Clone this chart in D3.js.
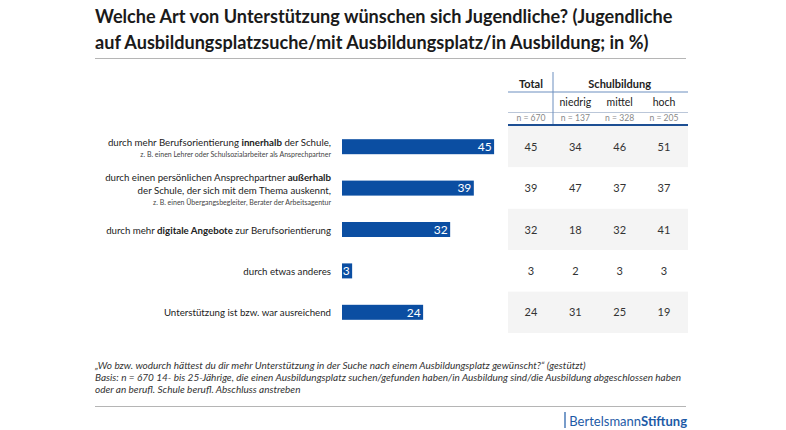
<!DOCTYPE html>
<html>
<head>
<meta charset="utf-8">
<script src="https://cdn.jsdelivr.net/npm/d3@7"></script>
<style>
  html, body { margin: 0; padding: 0; background: #fff; }
  svg { display: block; font-family: Lato, "Open Sans", sans-serif; }
</style>
</head>
<body>
<svg id="chart" width="786" height="430"></svg>
<script>
// ---------- data ----------
const titleLines = [
  "Welche Art von Unterstützung wünschen sich Jugendliche? (Jugendliche",
  "auf Ausbildungsplatzsuche/mit Ausbildungsplatz/in Ausbildung; in %)"
];
const categories = ["innerhalb", "ausserhalb", "digital", "anderes", "ausreichend"];
// main label lines, **bold** segments marked
const labelLines = [
  ["durch mehr Berufsorientierung **innerhalb** der Schule,"],
  ["durch einen persönlichen Ansprechpartner **außerhalb**", "der Schule, der sich mit dem Thema auskennt,"],
  ["durch mehr **digitale Angebote** zur Berufsorientierung"],
  ["durch etwas anderes"],
  ["Unterstützung ist bzw. war ausreichend"]
];
const subLabels = [
  "z. B. einen Lehrer oder Schulsozialarbeiter als Ansprechpartner",
  "z. B. einen Übergangsbegleiter, Berater der Arbeitsagentur",
  "", "", ""
];
const totalValues   = [45, 39, 32, 3, 24];
const niedrigValues = [34, 47, 18, 2, 31];
const mittelValues  = [46, 37, 32, 3, 25];
const hochValues    = [51, 37, 41, 3, 19];
const columnNames = ["Total", "niedrig", "mittel", "hoch"];
const groupName = "Schulbildung";
const nLabels = ["n = 670", "n = 137", "n = 328", "n = 205"];
const footnoteLines = [
  "„Wo bzw. wodurch hättest du dir mehr Unterstützung in der Suche nach einem Ausbildungsplatz gewünscht?“ (gestützt)",
  "Basis: n = 670 14- bis 25-Jährige, die einen Ausbildungsplatz suchen/gefunden haben/in Ausbildung sind/die Ausbildung abgeschlossen haben",
  "oder an berufl. Schule berufl. Abschluss anstreben"
];

// ---------- layout ----------
const svg = d3.select("#chart");
const blue = "#0b4ea2";
const textDark = "#222";

const x = d3.scaleLinear().domain([0, 100]).range([342, 680]);
const y = d3.scaleBand().domain(categories).range([126, 333]);
const colX = d3.scalePoint().domain(columnNames).range([531, 664]);
const tableLeft = 508, tableRight = 688;

// title
svg.append("g").selectAll("text").data(titleLines).join("text")
  .attr("x", 95).attr("y", (d, i) => 23 + i * 26)
  .attr("font-size", 18.1).attr("font-weight", 700).attr("fill", "#1a1a1a")
  .text(d => d);
svg.append("line").attr("x1", 95).attr("x2", 686).attr("y1", 58.5).attr("y2", 58.5)
  .attr("stroke", "#b5b5b5").attr("stroke-width", 1.2);

// table row backgrounds
svg.append("g").selectAll("rect").data(categories).join("rect")
  .attr("x", tableLeft).attr("width", tableRight - tableLeft)
  .attr("y", d => y(d)).attr("height", y.bandwidth())
  .attr("fill", (d, i) => i % 2 === 0 ? "#f4f4f4" : "#ffffff");

// table header
const hdr = svg.append("g");
hdr.append("text").attr("x", colX("Total")).attr("y", 87.5).attr("text-anchor", "middle")
  .attr("font-size", 11).attr("font-weight", 700).attr("fill", textDark).text(columnNames[0]);
hdr.append("text").attr("x", colX("mittel")).attr("y", 87.5).attr("text-anchor", "middle")
  .attr("font-size", 11).attr("font-weight", 700).attr("fill", textDark).text(groupName);
hdr.selectAll("text.sub").data(columnNames.slice(1)).join("text").attr("class", "sub")
  .attr("x", d => colX(d)).attr("y", 105.5).attr("text-anchor", "middle")
  .attr("font-size", 10.5).attr("fill", textDark).text(d => d);
hdr.selectAll("text.n").data(columnNames).join("text").attr("class", "n")
  .attr("x", d => colX(d)).attr("y", 121).attr("text-anchor", "middle")
  .attr("font-size", 8.6).attr("fill", "#888").text((d, i) => nLabels[i]);
hdr.append("line").attr("x1", tableLeft).attr("x2", tableRight).attr("y1", 92).attr("y2", 92)
  .attr("stroke", "#6d8fbf").attr("stroke-width", 1);
hdr.append("line").attr("x1", tableLeft).attr("x2", tableRight).attr("y1", 112.5).attr("y2", 112.5)
  .attr("stroke", "#aab9cf").attr("stroke-width", 0.8);
hdr.append("line").attr("x1", 553).attr("x2", 553).attr("y1", 72).attr("y2", 124)
  .attr("stroke", "#6d8fbf").attr("stroke-width", 1);
hdr.append("line").attr("x1", tableLeft).attr("x2", tableRight).attr("y1", 125).attr("y2", 125)
  .attr("stroke", "#1d4f93").attr("stroke-width", 2);

// table values
const tableCols = [totalValues, niedrigValues, mittelValues, hochValues];
const cells = [];
categories.forEach((c, r) => tableCols.forEach((col, k) => cells.push({c, col: columnNames[k], v: col[r]})));
svg.append("g").selectAll("text").data(cells).join("text")
  .attr("x", d => colX(d.col)).attr("y", d => y(d.c) + y.bandwidth() / 2 + 4)
  .attr("text-anchor", "middle").attr("font-size", 11).attr("fill", "#333")
  .text(d => d.v);

// bars
svg.append("g").selectAll("rect").data(categories).join("rect")
  .attr("x", x(0)).attr("y", d => y(d) + y.bandwidth() / 2 - 7.5)
  .attr("width", (d, i) => x(totalValues[i]) - x(0)).attr("height", 15)
  .attr("fill", blue);
svg.append("g").selectAll("text").data(categories).join("text")
  .attr("x", (d, i) => x(totalValues[i]) - 2.5).attr("y", d => y(d) + y.bandwidth() / 2 + 4.3)
  .attr("text-anchor", "end").attr("font-size", 12).attr("fill", "#fff")
  .text((d, i) => totalValues[i]);

// category labels
const labG = svg.append("g");
categories.forEach((c, i) => {
  const lines = labelLines[i];
  const hasSub = subLabels[i] !== "";
  const blockH = lines.length * 13 + (hasSub ? 9 : 0);
  const cy = y(c) + y.bandwidth() / 2;
  const top = cy - blockH / 2;
  lines.forEach((ln, j) => {
    const t = labG.append("text").attr("x", 331).attr("y", top + 10.5 + j * 13)
      .attr("text-anchor", "end").attr("font-size", 9.7).attr("fill", textDark);
    ln.split("**").forEach((seg, k) => {
      if (seg) t.append("tspan").attr("font-weight", k % 2 ? 700 : 400).text(seg);
    });
  });
  if (hasSub) {
    labG.append("text").attr("x", 331).attr("y", top + lines.length * 13 + 8.5)
      .attr("text-anchor", "end").attr("font-size", 7).attr("fill", "#444")
      .text(subLabels[i]);
  }
});

// footnote
svg.append("g").selectAll("text").data(footnoteLines).join("text")
  .attr("x", 95).attr("y", (d, i) => 369 + i * 12)
  .attr("font-size", 10).attr("font-style", "italic").attr("fill", "#333")
  .text(d => d);
svg.append("line").attr("x1", 95).attr("x2", 686).attr("y1", 406.5).attr("y2", 406.5)
  .attr("stroke", "#b5b5b5").attr("stroke-width", 1.2);

// logo
svg.append("line").attr("x1", 565).attr("x2", 565).attr("y1", 412).attr("y2", 428)
  .attr("stroke", "#1d5aa6").attr("stroke-width", 1.2);
const logo = svg.append("text").attr("x", 687).attr("y", 425.5).attr("text-anchor", "end")
  .attr("font-size", 13).attr("fill", "#1d5aa6");
logo.append("tspan").attr("font-weight", 400).text("Bertelsmann");
logo.append("tspan").attr("font-weight", 700).text("Stiftung");
</script>
</body>
</html>
